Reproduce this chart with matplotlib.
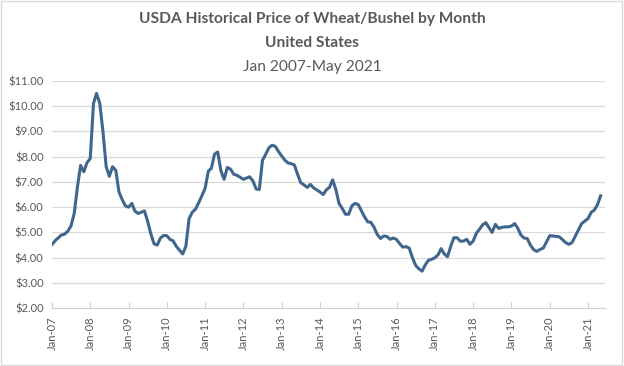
# USDA wheat price by month, line chart

import numpy as np
import pandas as pd
import matplotlib.pyplot as plt
import matplotlib.dates as mdates
from matplotlib.patches import Rectangle

months = pd.date_range('2007-01-01', '2021-05-01', freq='MS')

price = [
    # 2007
    4.52, 4.68, 4.78, 4.90, 4.93, 5.05, 5.25, 5.75, 6.80, 7.65, 7.40, 7.76,
    # 2008
    7.92, 10.10, 10.50, 10.10, 9.00, 7.60, 7.22, 7.60, 7.45, 6.60, 6.30, 6.05,
    # 2009
    6.00, 6.15, 5.85, 5.75, 5.80, 5.85, 5.45, 4.95, 4.55, 4.50, 4.78, 4.88,
    # 2010
    4.87, 4.72, 4.67, 4.45, 4.30, 4.15, 4.45, 5.55, 5.80, 5.92, 6.18, 6.45,
    # 2011
    6.75, 7.43, 7.53, 8.10, 8.18, 7.43, 7.10, 7.57, 7.50, 7.30, 7.26, 7.18,
    # 2012
    7.10, 7.15, 7.20, 7.04, 6.72, 6.70, 7.85, 8.09, 8.35, 8.45, 8.40, 8.20,
    # 2013
    8.02, 7.85, 7.75, 7.72, 7.67, 7.30, 6.97, 6.88, 6.78, 6.90, 6.76, 6.68,
    # 2014
    6.60, 6.50, 6.68, 6.78, 7.08, 6.70, 6.15, 5.95, 5.72, 5.72, 6.05, 6.15,
    # 2015
    6.10, 5.85, 5.62, 5.42, 5.40, 5.20, 4.92, 4.76, 4.86, 4.84, 4.73, 4.78,
    # 2016
    4.72, 4.55, 4.42, 4.44, 4.38, 4.00, 3.70, 3.56, 3.47, 3.72, 3.90, 3.94,
    # 2017
    4.00, 4.12, 4.36, 4.15, 4.04, 4.45, 4.79, 4.79, 4.65, 4.66, 4.73, 4.53,
    # 2018
    4.66, 4.97, 5.12, 5.30, 5.39, 5.19, 5.00, 5.32, 5.16, 5.20, 5.22, 5.22,
    # 2019
    5.25, 5.35, 5.18, 4.90, 4.78, 4.76, 4.50, 4.32, 4.25, 4.33, 4.38, 4.62,
    # 2020
    4.87, 4.86, 4.84, 4.83, 4.72, 4.60, 4.53, 4.60, 4.85, 5.10, 5.35, 5.45,
    # 2021
    5.55, 5.80, 5.88, 6.10, 6.45,
]

y_ticks = [2, 3, 4, 5, 6, 7, 8, 9, 10, 11]

grey = '#595959'
plt.rcParams['font.family'] = ['Lato', 'DejaVu Sans']

fig = plt.figure(figsize=(6.24, 3.66), dpi=100)
ax = fig.add_axes([0.0833, 0.1576, 0.8863, 0.6219])

ax.plot(months, price, color='#41668e', lw=2.2, solid_joinstyle='round')

ax.set_ylim(2, 11)
ax.set_yticks(y_ticks)
ax.set_yticklabels(['$%.2f' % v for v in y_ticks])
ax.set_xlim(pd.Timestamp('2007-01-01'), pd.Timestamp('2021-06-12'))
ax.xaxis.set_major_locator(mdates.YearLocator(1, month=1, day=1))
ax.xaxis.set_major_formatter(mdates.DateFormatter('Jan-%y'))

ax.grid(axis='y', color='#d9d9d9', lw=0.9)
ax.set_axisbelow(True)
for s in ['left', 'top', 'right']:
    ax.spines[s].set_visible(False)
ax.spines['bottom'].set_color('#d0d0d0')
ax.tick_params(axis='y', length=0, labelsize=8, labelcolor=grey, pad=6)
ax.tick_params(axis='x', direction='in', length=4, color='#d0d0d0',
               labelsize=8, labelcolor=grey, labelrotation=90, pad=6)

fig.text(0.5, 0.948, 'USDA Historical Price of Wheat/Bushel by Month',
         ha='center', va='center', fontsize=11.2, fontweight='bold', color=grey)
fig.text(0.5, 0.882, 'United States', ha='center', va='center',
         fontsize=11.2, fontweight='bold', color=grey)
fig.text(0.5, 0.818, 'Jan 2007-May 2021', ha='center', va='center',
         fontsize=11.2, color=grey)

fig.patches.append(Rectangle((0.002, 0.003), 0.995, 0.993, transform=fig.transFigure,
                             fill=False, edgecolor='#d9d9d9', lw=1))

fig.savefig('out.png', dpi=100)
